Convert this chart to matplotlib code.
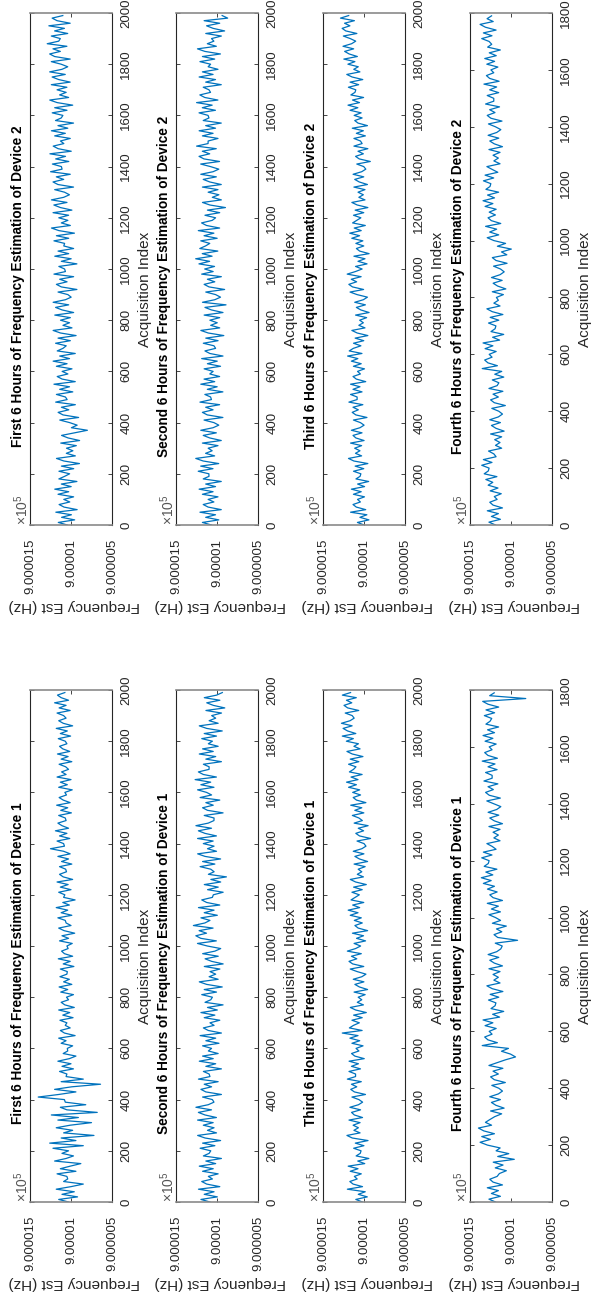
import numpy as np
import matplotlib.pyplot as plt

plt.rcParams['font.family'] = ['Liberation Sans', 'DejaVu Sans']
plt.rcParams['mathtext.fontset'] = 'custom'
plt.rcParams['mathtext.rm'] = 'Liberation Sans'

# frequency estimates, every 10th acquisition, in mHz relative to base_hz
base_hz = 900001.0
step = 10

d1_h1 = [30, 150, -80, 110, -40, 180, 0, -150, 90, 40,
         50, 170, -60, 130, 10, -120, 200, 60, -30, 110,
         30, 220, -150, 260, -60, 120, -280, 90, -20, 180,
         10, -250, 160, -90, 240, -320, 50, 130, -180, 70,
         80, 400, 150, -60, 200, -10, -360, 120, -150, 60,
         50, 140, -30, 110, 0, 160, 20, -60, 95, 40,
         45, -20, 120, 60, 150, -50, 80, 130, 10, 70,
         50, 135, -25, 100, 15, 150, -40, 75, 120, 30,
         55, -30, 125, 40, 145, -10, 90, 20, 135, 50,
         45, 130, -35, 95, 10, 155, -20, 80, 115, 35,
         50, -15, 140, 30, 110, -45, 85, 150, 0, 60,
         70, 160, -10, 120, 40, 180, 20, 100, -50, 90,
         75, 150, 0, 130, 35, 170, -20, 95, 140, 55,
         65, 140, -10, 115, 30, 160, 10, 90, 250, 80,
         90, 170, 15, 140, 50, 190, 30, 110, 160, 60,
         70, 150, -5, 125, 40, 175, 10, 95, 145, 55,
         75, -15, 150, 45, 130, 0, 170, 60, 115, 30,
         65, 145, -10, 120, 35, 165, 15, 100, 140, 50,
         70, 155, 5, 130, 45, 180, -20, 95, 150, 60,
         90, 170, 10, 145, 60, 200, 30, 120, 165, 75]

d1_h2 = [86, 196, -4, 156, 36, 226, -34, 126, 186, 56,
         106, -14, 176, 46, 216, 16, 136, -54, 166, 96,
         76, 206, 26, 176, -44, 146, 236, 6, 116, 36,
         167, 47, 237, 7, 147, 227, 67, 257, 107, 37,
         56, 176, -54, 136, 196, 66, 156, -14, 226, 86,
         96, 166, -54, 136, 16, 216, 46, 176, -14, 106,
         66, 176, -24, 136, 16, 206, -54, 106, 166, 36,
         86, -34, 156, 26, 196, -4, 116, -74, 146, 76,
         56, 186, 6, 156, -64, 126, 216, -14, 96, 16,
         85, -35, 155, -75, 65, 145, -15, 175, 25, -45,
         118, 238, 8, 198, 258, 128, 218, 48, 288, 148,
         86, 196, -4, 156, 36, 226, -34, 126, 186, 56,
         45, -75, 115, -15, 155, -45, 75, -115, 105, 35,
         76, 206, 26, 176, -44, 146, 236, 6, 116, 36,
         167, 47, 237, 7, 147, 227, 67, 257, 107, 37,
         36, 156, -74, 116, 176, 46, 136, -34, 206, 66,
         127, 237, 37, 197, 77, 267, 7, 167, 227, 97,
         96, 166, -54, 136, 16, 216, 46, 176, -14, 106,
         56, 186, 6, 156, -64, 126, 216, -14, 96, 16,
         65, -55, 135, -95, 45, 125, -35, 155, 5, -65]

d1_h3 = [20, 100, -40, 70, -15, 203, 18, 133, 173, 83,
         118, 33, 168, 73, 193, -9, 76, -59, 96, 46,
         36, 126, 1, 106, -49, 143, 208, 48, 123, 68,
         133, 48, 183, 18, 118, 152, 42, 172, 67, 17,
         62, 147, -18, 117, 162, 88, 153, 33, 203, 103,
         103, 183, 43, 153, 68, 182, -3, 112, 152, 62,
         97, 12, 147, 52, 172, 73, 265, 23, 178, 128,
         57, 147, 22, 127, -28, 102, 167, 7, 82, 27,
         71, -14, 121, -44, 56, 111, 1, 131, 26, -24,
         83, 168, 3, 138, 183, 88, 153, 33, 203, 103,
         41, 121, -19, 91, 6, 141, -44, 71, 111, 21,
         118, 33, 168, 73, 193, 53, 138, 3, 158, 108,
         57, 147, 22, 127, -28, 102, 167, 7, 82, 27,
         71, -14, 121, -44, 56, 111, 1, 131, 26, -24,
         0, 85, -80, 55, 100, 5, 70, -50, 120, 20,
         62, 142, 2, 112, 27, 162, -23, 92, 132, 42,
         138, 53, 188, 93, 213, 73, 158, 23, 178, 128,
         98, 188, 63, 168, 13, 143, 208, 48, 123, 68,
         215, 130, 265, 100, 200, 255, 145, 275, 170, 120,
         144, 229, 64, 199, 244, 149, 214, 94, 264, 164]

d1_h4 = [189, 269, 129, 239, 154, 289, 104, 219, 259, 169,
         142, 57, 192, 97, 217, -40, 162, 27, 182, 132,
         287, 377, 252, 357, 202, 332, 397, 237, 312, 257,
         199, 114, 249, 84, 184, 239, 129, 259, 154, 104,
         149, 234, 69, 204, 249, 154, 219, 99, 269, 169,
         66, -55, 6, 116, 31, 351, 166, 281, 321, 231,
         266, 181, 316, 221, 341, 139, 224, 89, 244, 194,
         184, 274, 149, 254, 99, 229, 294, 134, 209, 154,
         219, 134, 269, 104, 204, 259, 149, 279, 174, 124,
         107, 192, -80, 162, 207, 112, 177, 57, 227, 127,
         189, 269, 129, 239, 154, 289, 104, 219, 259, 169,
         287, 202, 337, 242, 362, 222, 307, 172, 327, 277,
         267, 357, 232, 337, 182, 229, 294, 134, 209, 154,
         219, 134, 269, 104, 204, 259, 149, 279, 174, 124,
         210, 295, 130, 265, 310, 215, 280, 160, 330, 230,
         230, 310, 170, 280, 195, 351, 166, 281, 321, 231,
         266, 181, 316, 221, 341, 201, 286, 151, 306, 256,
         235, 325, 200, 305, 150, 280, 345, -180, 260, 205]

d2_h1 = [45, 155, -45, 115, -5, 185, -75, 85, 145, 15,
         88, -32, 158, 28, 198, -2, 118, -72, 148, 78,
         17, 147, -33, 117, -103, 87, 177, -53, 57, -23,
         55, -65, 125, -105, 35, 115, -45, -200, -5, -75,
         17, 137, -93, 97, 157, 27, 117, -53, 187, 47,
         68, 178, -22, 138, 18, 208, -52, 108, 168, 38,
         108, -12, 178, 48, 218, 18, 138, -52, 168, 98,
         58, 188, 8, 158, -62, 128, 218, -12, 98, 18,
         128, 8, 198, -32, 108, 188, 28, 218, 68, -2,
         38, 158, -72, 118, 178, 48, 138, -32, 208, 68,
         78, 148, -72, 118, -2, 198, 28, 158, -32, 88,
         78, 208, 28, 178, -42, 148, 238, 8, 118, 38,
         149, 29, 219, -11, 129, 209, 49, 239, 89, 19,
         79, 199, -31, 159, 219, 89, 179, 9, 249, 109,
         117, 227, 27, 187, 67, 257, -3, 157, 217, 87,
         129, 9, 199, 69, 239, 39, 159, -31, 189, 119,
         99, 229, 49, 199, -21, 169, 259, 29, 139, 59,
         170, 50, 240, 10, 150, 230, 70, 260, 110, 40,
         120, 240, 10, 200, 260, 130, 220, 50, 290, 150,
         130, 240, 40, 200, 80, 270, 10, 170, 230, 100]

d2_h2 = [68, 178, -22, 138, 18, 208, -52, 108, 168, 38,
         108, -12, 178, 48, 218, 18, 138, -52, 168, 98,
         99, 229, 49, 199, -21, 169, 259, 29, 139, 59,
         108, -12, 178, -52, 88, 168, 8, 198, 48, -22,
         38, 158, -72, 118, 178, 48, 138, -32, 208, 68,
         78, 148, -72, 118, -2, 198, 28, 158, -32, 88,
         47, 157, -43, 117, -3, 187, -73, 87, 147, 17,
         37, 167, -13, 137, -83, 107, 197, -33, 77, -3,
         87, -33, 157, -73, 67, 147, -110, 177, 27, -43,
         17, 137, -93, 97, 157, 27, 117, -53, 187, 47,
         150, 30, 220, 90, 260, 60, 180, -10, 210, 140,
         88, 198, -2, 158, 38, 228, -32, 128, 188, 58,
         17, 147, -33, 117, -103, 87, 177, -53, 57, -23,
         108, -12, 178, -52, 88, 168, 8, 198, 48, -22,
         79, 199, -31, 159, 219, 89, 179, 9, 249, 109,
         108, -12, 178, 48, 218, 18, 138, -52, 168, 98,
         109, 219, 19, 179, 59, 249, -11, 149, 209, 79,
         98, 168, -52, 138, 18, 218, 48, 178, -12, 108,
         78, 208, 28, 178, -42, 148, 238, 8, 118, 38,
         67, -53, 137, -93, 47, 127, -33, 157, -130, -63]

d2_h3 = [0, 80, -60, 50, -35, 164, -21, 94, 134, 44,
         79, -6, 129, 34, 154, -7, 78, -57, 98, 48,
         38, 128, 3, 108, -47, 124, 189, 29, 104, 49,
         114, 29, 164, -1, 99, 134, 24, 154, 49, -1,
         44, 129, -36, 99, 144, 69, 134, 14, 184, 84,
         84, 164, 24, 134, 49, 164, -21, 94, 134, 44,
         79, -6, 129, 34, 154, 75, 200, 25, 180, 130,
         38, 128, 3, 108, -47, 83, 148, -12, 63, 8,
         53, -32, 103, -62, 38, 93, -17, 113, 8, -42,
         85, 170, 5, 140, 185, 90, 155, 35, 205, 105,
         23, 103, -37, 73, -12, 123, -62, 53, 93, 3,
         99, 14, 149, 54, 174, 34, 119, -16, 139, 89,
         38, 128, 3, 108, -47, 83, 148, -12, 63, 8,
         73, -12, 123, -42, 58, 113, 3, 133, 28, -22,
         3, 88, -77, 58, 103, 8, 73, -47, 123, 23,
         43, 123, -17, 93, 8, 143, -42, 73, 113, 23,
         120, 35, 170, 75, 195, 55, 140, 5, 160, 110,
         100, 190, 65, 170, 15, 145, 210, 50, 125, 70,
         196, 111, 246, 81, 181, 236, 126, 256, 151, 101,
         167, 252, 87, 222, 267, 172, 237, 117, 287, 187]

d2_h4 = [189, 269, 129, 239, 154, 289, 104, 219, 259, 169,
         204, 119, 254, 159, 279, 222, 307, 172, 327, 277,
         267, 357, 232, 337, 182, 209, 274, 114, 189, 134,
         199, 114, 249, 84, 184, 239, 129, 259, 154, 104,
         149, 234, 69, 204, 249, 154, 219, 99, 269, 169,
         148, 228, 88, 198, 113, 351, 166, 281, 321, 231,
         266, 181, 316, 221, 341, 139, 224, 89, 244, 194,
         184, 274, 149, 254, 99, 229, 294, 134, 209, 154,
         178, 93, 228, 63, 163, 218, 108, 238, 133, 83,
         128, 213, 48, 183, 228, 51, 116, -4, 166, 66,
         210, 290, 150, 260, 175, 310, 125, 240, 280, 190,
         266, 181, 316, 221, 341, 201, 286, 151, 306, 256,
         246, 336, 211, 316, 161, 229, 294, 134, 209, 154,
         219, 134, 269, 104, 204, 259, 149, 279, 174, 124,
         190, 275, 110, 245, 290, 195, 260, 140, 310, 210,
         210, 290, 150, 260, 175, 330, 145, 260, 300, 210,
         245, 160, 295, 200, 320, 180, 265, 130, 285, 235,
         267, 357, 232, 337, 182, 312, 377, 217, 292, 237]

periods = ['First', 'Second', 'Third', 'Fourth']
index_max = [2000, 2000, 2000, 1800]
freq_ticks = [900001.5, 900001.0, 900000.5]
freq_tick_labels = ['9.000015', '9.00001', '9.000005']

W, H = 592, 1299
fig = plt.figure(figsize=(W / 100, H / 100), dpi=100)

col_left = [30, 176, 323, 470]
row_top = {2: 13, 1: 690}
box_w, box_h = 82, 512
ink = '#262626'


def fx(x):
    return x / W


def fy(y):
    return 1 - y / H


for dev, series in ((2, [d2_h1, d2_h2, d2_h3, d2_h4]),
                    (1, [d1_h1, d1_h2, d1_h3, d1_h4])):
    y0 = row_top[dev]
    for i, vals in enumerate(series):
        x0 = col_left[i]
        ax = fig.add_axes([fx(x0), fy(y0 + box_h), box_w / W, box_h / H])
        idx = np.arange(len(vals)) * step
        freq = base_hz + np.asarray(vals) / 1000.0
        ax.plot(freq, idx, color='#0072BD', lw=0.9)

        ax.set_xlim(freq_ticks[0], freq_ticks[-1])
        ax.set_ylim(0, index_max[i])
        ax.set_xticks(freq_ticks)
        ax.set_xticklabels(freq_tick_labels)
        ax.set_yticks(np.arange(0, index_max[i] + 1, 200))

        ax.tick_params(axis='x', direction='in', top=True, bottom=True,
                       length=3, width=0.6, labelsize=9.5, labelrotation=90,
                       pad=10, colors=ink)
        ax.tick_params(axis='y', direction='in', left=True, right=True,
                       labelleft=False, labelright=True, length=3, width=0.6,
                       labelsize=9.5, labelrotation=90, pad=6, colors=ink)
        for lab in ax.get_yticklabels():
            lab.set_va('center')

        for side in ('left', 'right'):
            ax.spines[side].set_color(ink)
            ax.spines[side].set_linewidth(0.8)
        for side in ('top', 'bottom'):
            ax.spines[side].set_color('#8a8a8a')
            ax.spines[side].set_linewidth(1.2)

        cy = y0 + box_h / 2
        fig.text(fx(x0 - 12), fy(cy + 17),
                 f'{periods[i]} 6 Hours of Frequency Estimation of Device {dev}',
                 rotation=90, ha='center', va='center', fontsize=9.8,
                 fontweight='bold', color='black')
        fig.text(fx(x0 + box_w + 33), fy(cy + 20), 'Acquisition Index',
                 rotation=90, ha='center', va='center', fontsize=11, color=ink)
        fig.text(fx(x0 + box_w / 2 + 3), fy(y0 + box_h + 81),
                 'Frequency Est (Hz)', rotation=180, ha='center', va='center',
                 fontsize=11, color=ink)
        fig.text(fx(x0 - 8), fy(y0 + box_h), r'$\times10^{5}$',
                 rotation=90, ha='center', va='bottom', fontsize=10, color='#555555')

fig.savefig('out.png', dpi=100)
